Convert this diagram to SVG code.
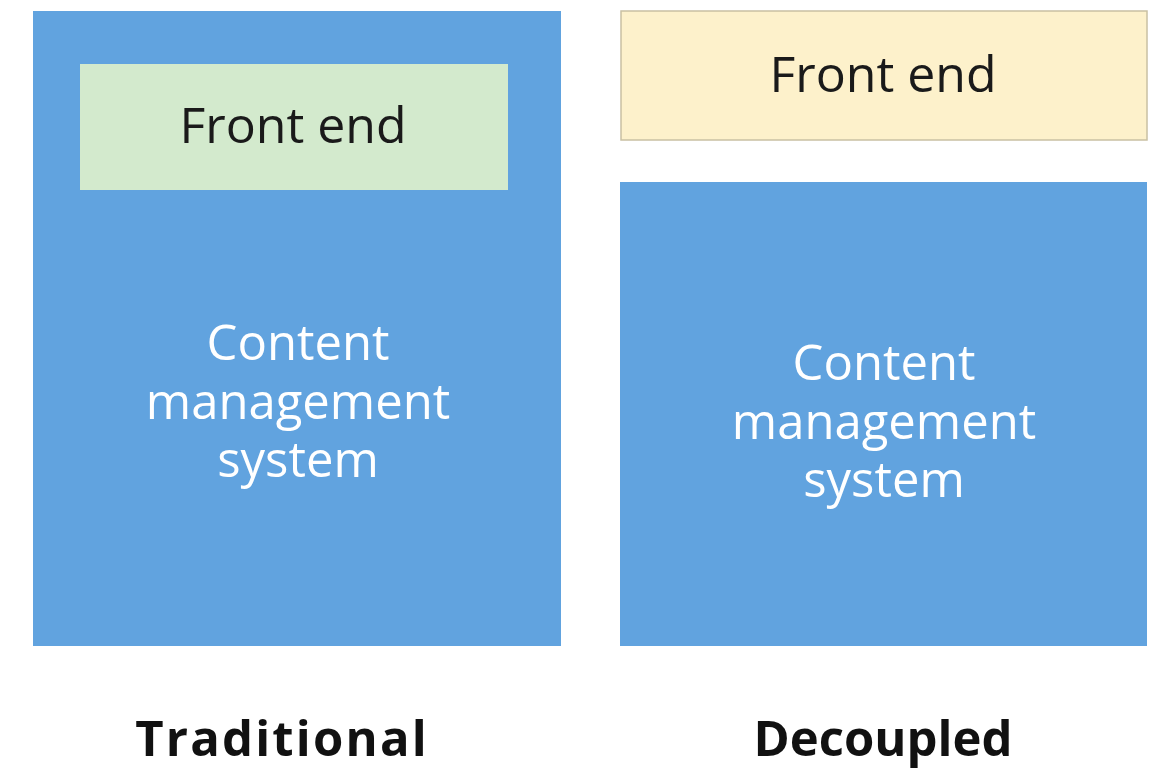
<svg xmlns="http://www.w3.org/2000/svg" width="1155" height="768" viewBox="0 0 1155 768">
<style>
.cms{fill:#61a3df}
.lbl{font-family:"Open Sans","Noto Sans",sans-serif;text-anchor:middle}
.dark{fill:#1a1a1a;font-size:50px}
.white{fill:#ffffff;font-size:49px}
.title{fill:#111;font-size:49px;font-weight:bold}
</style>
<rect width="1155" height="768" fill="#ffffff"/>
<g id="traditional">
<rect class="cms" x="33" y="11" width="528" height="635"/>
<g id="trad-frontend">
<rect x="80" y="64" width="428" height="126" fill="#d3eacd"/>
<text class="lbl dark" x="293" y="143">Front end</text>
</g>
<text class="lbl white" x="298" y="360">Content<tspan x="298" dy="59">management</tspan><tspan x="298" dy="58">system</tspan></text>
<text class="lbl title" x="282" y="756" letter-spacing="2.2">Traditional</text>
</g>
<g id="decoupled">
<g id="dec-frontend">
<rect x="621" y="11" width="526" height="129" fill="#fdf1cb" stroke="#c9c0a3" stroke-width="1.5"/>
<text class="lbl dark" x="883" y="92">Front end</text>
</g>
<g id="dec-cms">
<rect class="cms" x="620" y="182" width="527" height="464"/>
<text class="lbl white" x="884" y="380">Content<tspan x="884" dy="59">management</tspan><tspan x="884" dy="58">system</tspan></text>
</g>
<text class="lbl title" x="883" y="756">Decoupled</text>
</g>
<g id="connectors"></g>
</svg>
